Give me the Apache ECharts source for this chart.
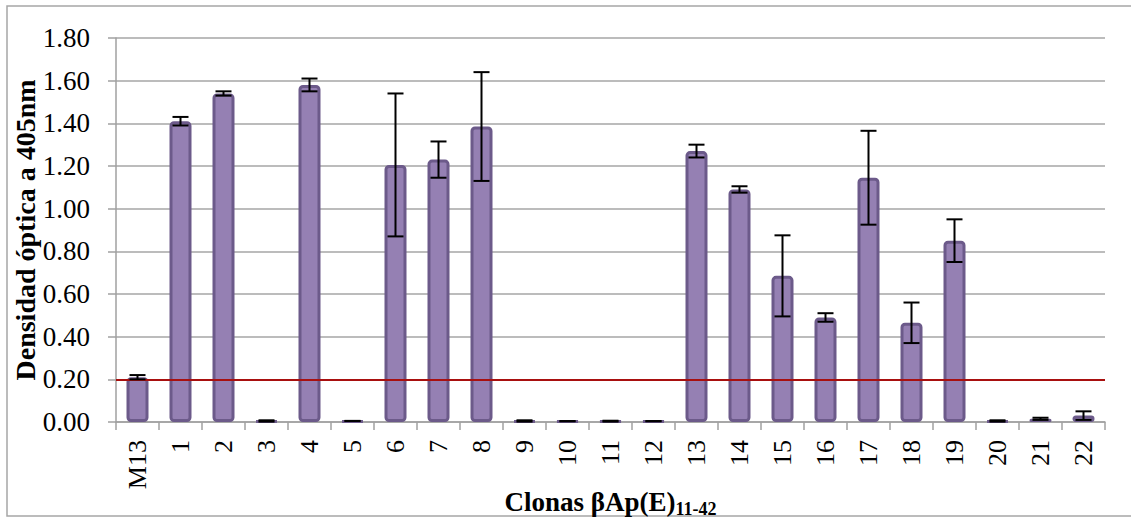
<!DOCTYPE html>
<html>
<head>
<meta charset="utf-8">
<script src="https://cdn.jsdelivr.net/npm/echarts@6/dist/echarts.min.js"></script>
<style>
  html, body { margin: 0; padding: 0; background: #fff; }
  #chart { width: 1131px; height: 518px; }
</style>
</head>
<body>
<div id="chart"></div>
<script>
// clonas (eje x)
const clonas = ['M13', '1', '2', '3', '4', '5', '6', '7', '8', '9', '10', '11',
  '12', '13', '14', '15', '16', '17', '18', '19', '20', '21', '22']
// densidad óptica media a 405nm
const densidad = [0.21, 1.41, 1.54, 0.005, 1.58, 0.005, 1.205, 1.23, 1.385, 0.005, 0.004, 0.004,
  0.004, 1.27, 1.09, 0.685, 0.49, 1.145, 0.465, 0.85, 0.005, 0.015, 0.03]
// desviación (barras de error)
const desviacion = [0.01, 0.02, 0.01, 0.003, 0.03, 0, 0.335, 0.085, 0.255, 0.003, 0, 0.002,
  0, 0.03, 0.015, 0.19, 0.02, 0.22, 0.095, 0.10, 0.003, 0.005, 0.02]
// umbral
const corte = 0.20

const serif = '"Liberation Serif", "DejaVu Serif", serif'

const chart = echarts.init(document.getElementById('chart'), null, { renderer: 'svg' })

const errData = clonas.map((c, i) => [i, densidad[i] - desviacion[i], densidad[i] + desviacion[i]])

const option = {
  animation: false,
  grid: { left: 116, right: 26, top: 38, bottom: 96, outerBoundsMode: 'none', containLabel: false },
  graphic: [{
    type: 'rect',
    shape: { x: 7, y: 6, width: 1130, height: 510 },
    style: { fill: 'none', stroke: '#a6a6a6', lineWidth: 1.5 },
    z: -1
  }],
  xAxis: {
    type: 'category',
    data: clonas,
    name: '{a|Clonas βAp(E)}{b|11-42}',
    nameLocation: 'middle',
    nameGap: 64,
    nameMoveOverlap: false,
    nameTextStyle: {
      rich: {
        a: { fontFamily: serif, fontWeight: 'bold', fontSize: 27, color: '#000' },
        b: { fontFamily: serif, fontWeight: 'bold', fontSize: 18, color: '#000', padding: [14, 0, 0, 0] }
      }
    },
    axisLine: { lineStyle: { color: '#a0a0a0', width: 1.5 } },
    axisTick: { show: true, length: 8, lineStyle: { color: '#a0a0a0', width: 1.5 } },
    axisLabel: { rotate: 90, fontFamily: serif, fontSize: 26, color: '#000', margin: 18 }
  },
  yAxis: {
    type: 'value',
    min: 0,
    max: 1.8,
    interval: 0.2,
    name: 'Densidad óptica a 405nm',
    nameLocation: 'middle',
    nameRotate: 90,
    nameGap: 77,
    nameMoveOverlap: false,
    nameTextStyle: { fontFamily: serif, fontWeight: 'bold', fontSize: 28, color: '#000' },
    axisLine: { show: true, lineStyle: { color: '#a0a0a0', width: 1.5 } },
    axisTick: { show: true, length: 8, lineStyle: { color: '#a0a0a0', width: 1.5 } },
    axisLabel: {
      fontFamily: serif, fontSize: 27, color: '#000', margin: 26,
      formatter: v => v.toFixed(2)
    },
    splitLine: { lineStyle: { color: '#a6a6a6', width: 1.5 } }
  },
  series: [
    {
      type: 'bar',
      data: densidad,
      barWidth: 22,
      itemStyle: {
        color: '#9580b3',
        borderColor: '#6c5a8a',
        borderWidth: 3,
        borderRadius: 3
      },
      markLine: {
        silent: true,
        symbol: 'none',
        label: { show: false },
        lineStyle: { color: '#a8100f', width: 2, type: 'solid' },
        data: [{ yAxis: corte }]
      }
    },
    {
      type: 'custom',
      data: errData,
      z: 5,
      renderItem: (params, api) => {
        const x = api.value(0)
        const lo = api.coord([x, api.value(1)])
        const hi = api.coord([x, api.value(2)])
        const half = 8
        const style = { stroke: '#000', lineWidth: 2 }
        return {
          type: 'group',
          children: [
            { type: 'line', shape: { x1: hi[0], y1: hi[1], x2: lo[0], y2: lo[1] }, style },
            { type: 'line', shape: { x1: hi[0] - half, y1: hi[1], x2: hi[0] + half, y2: hi[1] }, style },
            { type: 'line', shape: { x1: lo[0] - half, y1: lo[1], x2: lo[0] + half, y2: lo[1] }, style }
          ]
        }
      }
    }
  ]
}

chart.setOption(option)
</script>
</body>
</html>
